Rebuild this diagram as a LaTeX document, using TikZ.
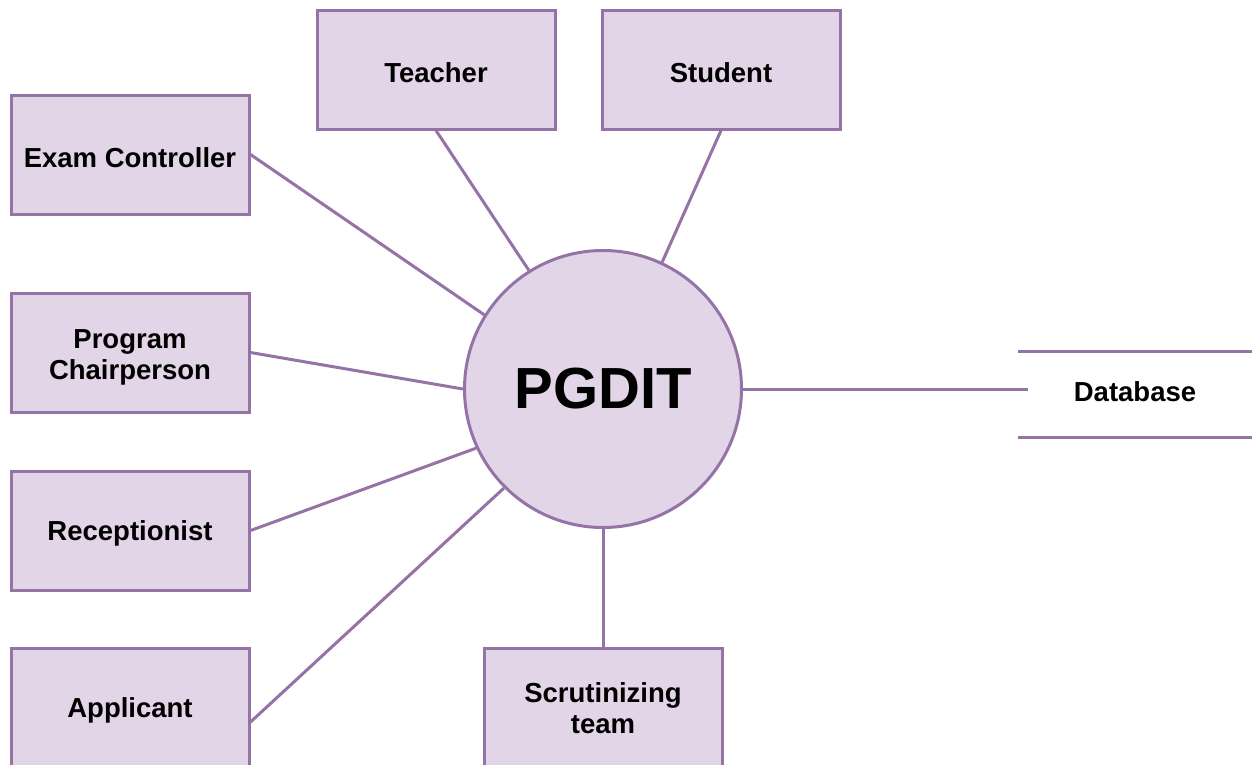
\documentclass[tikz,border=0pt]{standalone}
\usepackage{fontspec}
\setmainfont{Liberation Sans}
\definecolor{pfill}{HTML}{E1D5E7}
\definecolor{pline}{HTML}{9673A6}
\newcommand\lowr[2][3pt]{\raisebox{-#1}[\height][\depth]{#2}}
\newcommand\twol[2]{\begin{tabular}{@{}c@{}}#1\\#2\end{tabular}}
\begin{document}
\begin{tikzpicture}[x=1pt,y=-1pt,
  actor/.style={draw=pline,fill=pfill,line width=3pt,rectangle,minimum width=238pt,minimum height=119pt,inner sep=0pt,align=center,font=\fontsize{27.5}{31.5}\selectfont\bfseries},
  link/.style={draw=pline,line width=3pt}]
\useasboundingbox (0,0) rectangle (1252,764);
\clip (0,0) rectangle (1252,764);
\node[actor] (te) at (436,69.5) {\lowr{Teacher}};
\node[actor] (su) at (721,69.5) {\lowr{Student}};
\node[actor] (ec) at (130,154.5) {\lowr{Exam Controller}};
\node[actor] (pc) at (130,352.5) {\lowr[5pt]{\twol{Program}{Chairperson}}};
\node[actor] (re) at (130,530.5) {\lowr{Receptionist}};
\node[actor] (ap) at (130,707.5) {\lowr{Applicant}};
\node[actor] (st) at (603,707.5) {\lowr[4pt]{\twol{Scrutinizing}{team}}};
\node[draw=pline,fill=pfill,line width=3pt,circle,minimum size=277pt,inner sep=0pt,font=\fontsize{58}{60}\selectfont\bfseries] (c) at (603,389) {PGDIT};
\node[minimum width=234pt,minimum height=85pt,inner sep=0pt,font=\fontsize{27.5}{31.5}\selectfont\bfseries] (db) at (1135,394.5) {\raisebox{3pt}[\height][\depth]{Database}};
\draw[link] (db.north west) -- (db.north east);
\draw[link] (db.south west) -- (db.south east);
\coordinate (dbin) at ([xshift=10pt]db.west |- c.east);
\draw[link] (c.east) -- (dbin);
\draw[link] (te.south) -- (c.122);
\draw[link] (su.south) -- (c.65);
\draw[link] (ec.east) -- (c.148);
\draw[link] (pc.east) -- (c.west);
\draw[link] (re.east) -- (c.205);
\draw[link] ([yshift=-14.5pt]ap.east) -- (c.225);
\draw[link] (c.south) -- (st.north);
\end{tikzpicture}
\end{document}
